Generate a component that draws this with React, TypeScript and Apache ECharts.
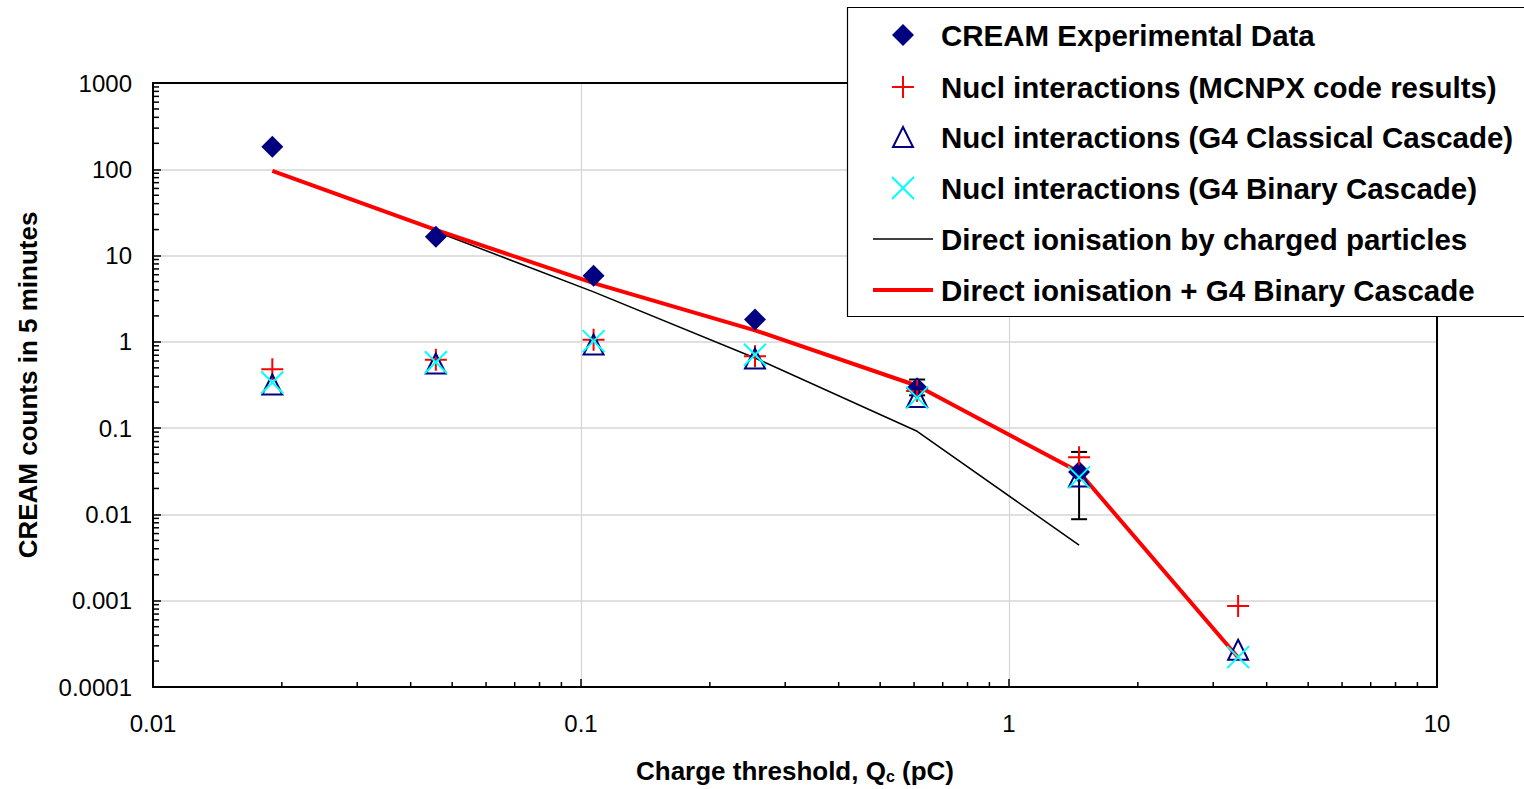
import React, { useEffect, useRef } from "react";
import * as echarts from "echarts";

// ---------- data ----------
const thresholds = [0.019, 0.0458, 0.107, 0.255, 0.61, 1.458, 3.43];
const creamData = [182, 16.5, 5.85, 1.81, 0.29, 0.031];
const mcnpx = [0.48, 0.62, 1.06, 0.68, 0.27, 0.046, 0.00087];
const g4Classical = [0.32, 0.56, 0.93, 0.64, 0.23, 0.0276, 0.00027];
const g4Binary = [0.338, 0.58, 1.02, 0.71, 0.226, 0.0269, 0.000222];
const directX = [0.0458, 0.107, 0.255, 0.61, 1.458];
const directIon = [19.0, 3.8, 0.65, 0.092, 0.0044];
const combined = [96, 19.8, 4.8, 1.36, 0.31, 0.031, 0.00022];
const errX = [0.61, 1.458];
const errLow = [0.24, 0.0088];
const errHigh = [0.366, 0.053];

const xTickLabels = ["0.01", "0.1", "1", "10"];
const yTickLabels = ["0.0001", "0.001", "0.01", "0.1", "1", "10", "100", "1000"];

const legendLabels = [
  "CREAM Experimental Data",
  "Nucl interactions (MCNPX code results)",
  "Nucl interactions (G4 Classical Cascade)",
  "Nucl interactions (G4 Binary Cascade)",
  "Direct ionisation by charged particles",
  "Direct ionisation + G4 Binary Cascade",
];

const X_MIN = 0.01, X_MAX = 10, Y_MIN = 0.0001, Y_MAX = 1000;

function minorTicks(lo: number, hi: number) {
  const out: number[] = [];
  for (let e = Math.log10(lo); e < Math.log10(hi); e++) {
    for (let k = 2; k <= 9; k++) out.push(k * Math.pow(10, e));
  }
  return out;
}

const FONT = '"Liberation Sans", Arial, sans-serif';
const NAVY = "#000080";

function labelFor(v: number, labels: string[]) {
  const t = labels.find((s) => Math.abs(Math.log10(parseFloat(s)) - Math.log10(v)) < 1e-6);
  return t ?? "";
}

export default function App() {
  const ref = useRef<HTMLDivElement>(null);
  useEffect(() => {
    if (!ref.current) return;
    const chart = echarts.init(ref.current, null, { renderer: "svg" });

    const lx = 873, lw = 60, sx = 903, tx = 941;
    const rowY = [35, 87, 137, 188, 239, 290];
    const legendGraphics: any[] = [
      {
        type: "rect",
        shape: { x: 847.5, y: 7.5, width: 720, height: 309 },
        style: { fill: "#fff", stroke: "#000", lineWidth: 1.2 },
        z: 100,
      },
      {
        type: "polygon",
        shape: { points: [[sx, rowY[0] - 11], [sx + 11, rowY[0]], [sx, rowY[0] + 11], [sx - 11, rowY[0]]] },
        style: { fill: NAVY },
        z: 101,
      },
      { type: "line", shape: { x1: sx - 11, y1: rowY[1], x2: sx + 11, y2: rowY[1] }, style: { stroke: "#ff0000", lineWidth: 2 }, z: 101 },
      { type: "line", shape: { x1: sx, y1: rowY[1] - 11, x2: sx, y2: rowY[1] + 11 }, style: { stroke: "#ff0000", lineWidth: 2 }, z: 101 },
      {
        type: "polygon",
        shape: { points: [[sx, rowY[2] - 10], [sx + 10, rowY[2] + 10], [sx - 10, rowY[2] + 10]] },
        style: { fill: "none", stroke: NAVY, lineWidth: 2 },
        z: 101,
      },
      { type: "line", shape: { x1: sx - 11, y1: rowY[3] - 11, x2: sx + 11, y2: rowY[3] + 11 }, style: { stroke: "#00ffff", lineWidth: 2 }, z: 101 },
      { type: "line", shape: { x1: sx - 11, y1: rowY[3] + 11, x2: sx + 11, y2: rowY[3] - 11 }, style: { stroke: "#00ffff", lineWidth: 2 }, z: 101 },
      { type: "line", shape: { x1: lx, y1: rowY[4], x2: lx + lw, y2: rowY[4] }, style: { stroke: "#000", lineWidth: 1.5 }, z: 101 },
      { type: "line", shape: { x1: lx, y1: rowY[5], x2: lx + lw, y2: rowY[5] }, style: { stroke: "#ff0000", lineWidth: 4 }, z: 101 },
      ...legendLabels.map((t, i) => ({
        type: "text",
        x: tx,
        y: rowY[i],
        style: {
          text: t,
          fontFamily: FONT,
          fontWeight: "bold",
          fontSize: 29.5,
          fill: "#000",
          verticalAlign: "middle",
          align: "left",
        },
        z: 101,
      })),
    ];

    const xMinor = minorTicks(X_MIN, X_MAX);
    const yMinor = minorTicks(Y_MIN, Y_MAX);

    const frameAxis = {
      axisLine: { show: true, onZero: false, lineStyle: { color: "#000", width: 2 } },
      axisTick: { show: false },
      axisLabel: { show: false },
      splitLine: { show: false },
    };

    const option: any = {
      animation: false,
      backgroundColor: "#fff",
      grid: { left: 153, top: 83, width: 1284, height: 605, show: false },
      xAxis: [
        {
          type: "log",
          logBase: 10,
          min: X_MIN,
          max: X_MAX,
          splitNumber: 3,
          axisLine: { show: true, lineStyle: { color: "#000", width: 2 } },
          axisTick: { show: true, inside: true, length: 8, lineStyle: { color: "#000", width: 1.5 } },
          axisLabel: {
            margin: 24,
            fontSize: 24,
            fontFamily: FONT,
            color: "#000",
            formatter: (v: number) => labelFor(v, xTickLabels),
          },
          splitLine: { show: true, lineStyle: { color: "#d6d6d6", width: 1.2 } },
          name: "Charge threshold, Q{sub|c} (pC)",
          nameLocation: "middle",
          nameGap: 71,
          nameTextStyle: {
            fontFamily: FONT,
            fontWeight: "bold",
            fontSize: 26,
            color: "#000",
            rich: {
              sub: { fontFamily: FONT, fontWeight: "bold", fontSize: 16, color: "#000", verticalAlign: "bottom", padding: [10, 0, 0, 0] },
            },
          },
        },
        { type: "log", logBase: 10, min: X_MIN, max: X_MAX, position: "top", ...frameAxis },
      ],
      yAxis: [
        {
          type: "log",
          logBase: 10,
          min: Y_MIN,
          max: Y_MAX,
          splitNumber: 7,
          axisLine: { show: true, lineStyle: { color: "#000", width: 2 } },
          axisTick: { show: true, inside: true, length: 8, lineStyle: { color: "#000", width: 1.5 } },
          axisLabel: {
            margin: 21,
            fontSize: 24,
            fontFamily: FONT,
            color: "#000",
            formatter: (v: number) => labelFor(v, yTickLabels),
          },
          splitLine: { show: true, lineStyle: { color: "#d6d6d6", width: 1.5 } },
          name: "CREAM counts in 5 minutes",
          nameLocation: "middle",
          nameGap: 112,
          nameTextStyle: { fontFamily: FONT, fontWeight: "bold", fontSize: 26, color: "#000" },
        },
        { type: "log", logBase: 10, min: Y_MIN, max: Y_MAX, position: "right", ...frameAxis },
      ],
      series: [
        {
          type: "custom",
          name: "yMinor",
          silent: true,
          z: 1,
          data: yMinor.map((v) => [X_MIN, v]),
          renderItem: (_p: any, api: any) => {
            const p = api.coord([api.value(0), api.value(1)]);
            return { type: "line", shape: { x1: p[0], y1: p[1], x2: p[0] + 6, y2: p[1] }, style: { stroke: "#000", lineWidth: 1.5 } };
          },
        },
        {
          type: "custom",
          name: "xMinor",
          silent: true,
          z: 1,
          data: xMinor.map((v) => [v, Y_MIN]),
          renderItem: (_p: any, api: any) => {
            const p = api.coord([api.value(0), api.value(1)]);
            return { type: "line", shape: { x1: p[0], y1: p[1], x2: p[0], y2: p[1] - 5 }, style: { stroke: "#000", lineWidth: 1.5 } };
          },
        },
        {
          type: "line",
          name: "Direct ionisation by charged particles",
          data: directX.map((x, i) => [x, directIon[i]]),
          symbol: "none",
          lineStyle: { color: "#000", width: 1.5 },
          silent: true,
          z: 2,
        },
        {
          type: "line",
          name: "Direct ionisation + G4 Binary Cascade",
          data: thresholds.map((x, i) => [x, combined[i]]),
          symbol: "none",
          lineStyle: { color: "#ff0000", width: 4 },
          silent: true,
          z: 3,
        },
        {
          type: "custom",
          name: "errors",
          silent: true,
          z: 4,
          data: errX.map((x, i) => [x, errLow[i], errHigh[i]]),
          renderItem: (_p: any, api: any) => {
            const lo = api.coord([api.value(0), api.value(1)]);
            const hi = api.coord([api.value(0), api.value(2)]);
            const c = 8;
            const st = { stroke: "#000", lineWidth: 2 };
            return {
              type: "group",
              children: [
                { type: "line", shape: { x1: lo[0], y1: lo[1], x2: hi[0], y2: hi[1] }, style: st },
                { type: "line", shape: { x1: lo[0] - c, y1: lo[1], x2: lo[0] + c, y2: lo[1] }, style: st },
                { type: "line", shape: { x1: hi[0] - c, y1: hi[1], x2: hi[0] + c, y2: hi[1] }, style: st },
              ],
            };
          },
        },
        {
          type: "scatter",
          name: "CREAM Experimental Data",
          data: creamData.map((y, i) => [thresholds[i], y]),
          symbol: "diamond",
          symbolSize: 22,
          itemStyle: { color: NAVY, opacity: 1 },
          silent: true,
          z: 5,
        },
        {
          type: "scatter",
          name: "Nucl interactions (MCNPX code results)",
          data: mcnpx.map((y, i) => [thresholds[i], y]),
          symbol: "path://M0,10L20,10M10,0L10,20",
          symbolSize: 22,
          itemStyle: { color: "none", borderColor: "#ff0000", borderWidth: 2, opacity: 1 },
          silent: true,
          z: 6,
        },
        {
          type: "scatter",
          name: "Nucl interactions (G4 Classical Cascade)",
          data: g4Classical.map((y, i) => [thresholds[i], y]),
          symbol: "triangle",
          symbolSize: 20,
          itemStyle: { color: "none", borderColor: NAVY, borderWidth: 2, opacity: 1 },
          silent: true,
          z: 7,
        },
        {
          type: "scatter",
          name: "Nucl interactions (G4 Binary Cascade)",
          data: g4Binary.map((y, i) => [thresholds[i], y]),
          symbol: "path://M0,0L20,20M20,0L0,20",
          symbolSize: 22,
          itemStyle: { color: "none", borderColor: "#00ffff", borderWidth: 2, opacity: 1 },
          silent: true,
          z: 8,
        },
      ],
      graphic: legendGraphics,
    };

    chart.setOption(option);
    return () => chart.dispose();
  }, []);

  return (
    <div
      ref={ref}
      style={{ position: "absolute", left: 0, top: 0, width: 1524, height: 789, background: "#fff" }}
    />
  );
}
